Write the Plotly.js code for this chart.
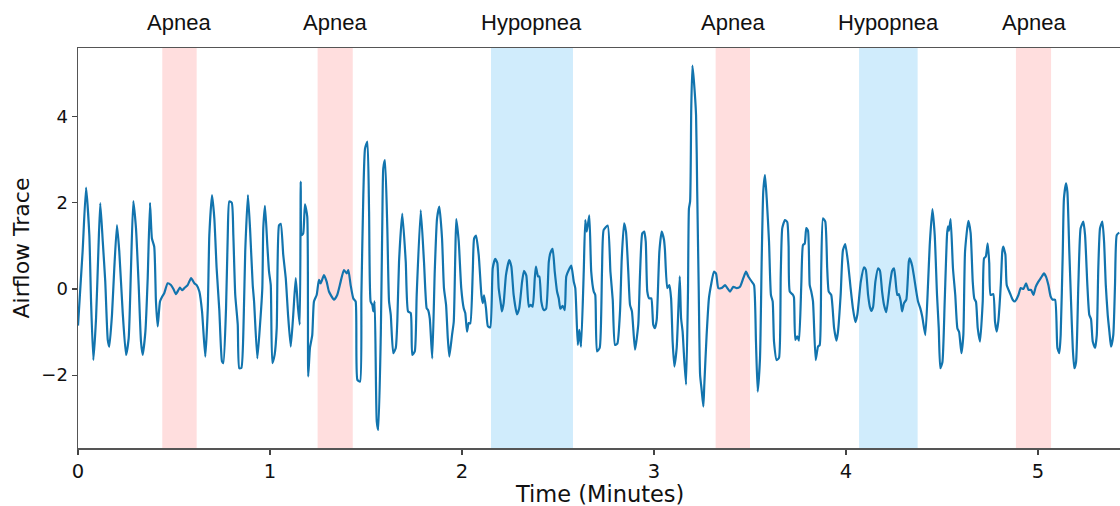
<!DOCTYPE html>
<html>
<head>
<meta charset="utf-8">
<script src="https://cdn.plot.ly/plotly-3.0.1.min.js"></script>
<style>html,body{margin:0;padding:0;background:#fff;}#chart{width:1120px;height:506px;}</style>
</head>
<body>
<div id="chart"></div>
<script>
// Time in minutes
const timeMin = [
 0.000,0.024,0.042,0.059,0.068,0.080,0.094,0.106,0.116,0.129,
 0.142,0.155,0.163,0.177,0.189,0.203,0.215,0.233,0.250,0.264,
 0.276,0.288,0.302,0.316,0.328,0.337,0.351,0.363,0.375,0.385,
 0.397,0.406,0.415,0.427,0.438,0.449,0.467,0.484,0.497,0.510,
 0.531,0.542,0.554,0.571,0.589,0.606,0.618,0.632,0.646,0.663,
 0.676,0.684,0.698,0.710,0.722,0.736,0.750,0.757,0.771,0.780,
 0.788,0.801,0.809,0.819,0.832,0.840,0.851,0.863,0.871,0.885,
 0.896,0.910,0.917,0.934,0.948,0.960,0.965,0.974,0.986,0.995,
 1.004,1.012,1.024,1.035,1.047,1.056,1.069,1.082,1.094,1.108,
 1.121,1.134,1.146,1.155,1.160,1.165,1.173,1.182,1.194,1.199,
 1.208,1.220,1.229,1.243,1.255,1.264,1.281,1.295,1.307,1.333,
 1.350,1.368,1.385,1.399,1.408,1.420,1.434,1.446,1.455,1.469,
 1.476,1.486,1.495,1.507,1.516,1.524,1.533,1.538,1.545,1.556,
 1.564,1.577,1.585,1.590,1.599,1.611,1.620,1.629,1.642,1.655,
 1.663,1.672,1.689,1.707,1.719,1.733,1.741,1.754,1.764,1.785,
 1.802,1.816,1.823,1.832,1.845,1.858,1.870,1.882,1.896,1.906,
 1.917,1.926,1.934,1.948,1.957,1.965,1.970,1.983,1.996,2.009,
 2.017,2.026,2.035,2.043,2.056,2.063,2.073,2.087,2.101,2.108,
 2.115,2.125,2.135,2.147,2.160,2.173,2.184,2.191,2.203,2.208,
 2.217,2.229,2.246,2.257,2.269,2.286,2.298,2.313,2.323,2.335,
 2.348,2.358,2.368,2.379,2.385,2.396,2.403,2.413,2.426,2.438,
 2.452,2.460,2.472,2.483,2.495,2.504,2.512,2.524,2.535,2.543,
 2.556,2.569,2.582,2.590,2.603,2.611,2.620,2.634,2.642,2.650,
 2.663,2.673,2.686,2.694,2.703,2.717,2.729,2.738,2.759,2.773,
 2.785,2.797,2.809,2.823,2.832,2.844,2.854,2.866,2.875,2.885,
 2.901,2.918,2.927,2.939,2.949,2.957,2.965,2.975,2.986,2.996,
 3.005,3.014,3.028,3.040,3.052,3.057,3.069,3.080,3.089,3.097,
 3.106,3.118,3.127,3.134,3.141,3.149,3.156,3.167,3.177,3.182,
 3.188,3.194,3.200,3.208,3.219,3.225,3.233,3.240,3.248,3.257,
 3.262,3.274,3.286,3.297,3.312,3.323,3.335,3.352,3.370,3.382,
 3.396,3.413,3.431,3.448,3.465,3.479,3.491,3.509,3.521,3.531,
 3.540,3.552,3.561,3.569,3.578,3.587,3.599,3.609,3.618,3.625,
 3.639,3.651,3.660,3.668,3.682,3.694,3.701,3.707,3.724,3.729,
 3.736,3.746,3.755,3.767,3.776,3.785,3.793,3.802,3.811,3.819,
 3.828,3.842,3.854,3.863,3.871,3.880,3.892,3.902,3.910,3.923,
 3.938,3.950,3.958,3.972,3.984,3.996,4.010,4.024,4.036,4.049,
 4.059,4.077,4.094,4.103,4.115,4.124,4.132,4.141,4.153,4.167,
 4.177,4.188,4.198,4.210,4.228,4.240,4.250,4.257,4.267,4.275,
 4.285,4.292,4.302,4.314,4.327,4.332,4.344,4.353,4.366,4.375,
 4.387,4.397,4.413,4.427,4.436,4.450,4.462,4.474,4.483,4.491,
 4.502,4.514,4.526,4.531,4.536,4.545,4.557,4.569,4.580,4.589,
 4.601,4.611,4.620,4.637,4.649,4.660,4.668,4.677,4.686,4.698,
 4.712,4.719,4.728,4.738,4.746,4.753,4.767,4.776,4.785,4.793,
 4.806,4.814,4.819,4.830,4.837,4.854,4.868,4.880,4.898,4.910,
 4.924,4.938,4.950,4.964,4.976,4.988,5.002,5.014,5.031,5.042,
 5.054,5.066,5.076,5.089,5.101,5.111,5.118,5.129,5.135,5.146,
 5.153,5.163,5.172,5.181,5.189,5.198,5.210,5.222,5.236,5.245,
 5.257,5.267,5.276,5.285,5.297,5.306,5.314,5.323,5.335,5.344,
 5.353,5.363,5.372,5.380,5.392,5.401,5.410,5.423
];
// Airflow trace values
const airflow = [
 -0.85,0.87,2.35,1.25,-0.29,-1.65,-0.68,0.87,1.99,1.10,
 0.17,-1.18,-1.34,-0.60,0.48,1.48,0.87,-0.56,-1.53,-1.14,
 0.48,2.04,1.41,0.09,-1.22,-1.53,-0.99,0.25,2.00,1.17,
 0.98,-0.29,-0.87,-0.29,-0.18,-0.10,0.13,0.09,0.00,-0.12,
 0.03,-0.03,0.02,0.09,0.25,0.13,0.09,-0.06,-0.52,-1.57,
 -0.45,1.25,2.18,1.64,0.48,-0.49,-1.68,-1.72,-0.45,1.25,
 2.03,2.00,1.25,-0.14,-0.83,-1.84,-1.83,-0.68,0.87,2.18,
 1.41,0.09,-0.29,-1.61,-0.83,0.02,1.41,1.93,1.02,0.40,
 0.09,-1.72,-1.53,-0.91,1.48,1.51,0.79,0.25,-0.60,-1.34,
 -0.60,0.25,-0.45,-0.83,2.49,1.25,1.29,1.96,1.68,-2.03,
 -1.37,-1.07,-0.29,-0.14,0.21,0.13,0.32,0.17,-0.06,-0.25,
 -0.14,0.17,0.44,0.36,0.44,0.09,-0.22,-0.29,-2.11,-2.15,
 -0.14,2.18,3.26,3.42,1.79,-0.29,-0.37,-0.52,-0.29,-3.07,
 -3.27,-1.07,1.56,2.80,2.99,1.41,-0.29,-0.60,-1.49,-1.37,
 -0.76,0.63,1.75,0.63,-0.52,-0.56,-1.53,-1.45,-0.14,1.83,
 0.63,-0.45,-0.49,-0.68,-1.61,0.40,1.64,1.91,1.17,0.02,
 -0.37,-1.14,-1.57,-1.07,-0.76,0.79,1.62,1.10,0.02,-0.45,
 -0.56,-0.99,-0.79,-0.80,0.40,1.17,1.24,0.79,-0.14,-0.33,
 -0.15,-0.45,-0.87,-0.89,0.48,0.70,0.60,0.02,-0.37,-0.52,
 -0.33,0.32,0.67,0.52,-0.14,-0.59,-0.45,0.17,0.42,0.31,
 -0.41,-0.37,-0.41,0.25,0.52,0.29,0.29,-0.29,-0.49,-0.46,
 0.63,0.83,0.93,0.40,-0.06,-0.22,-0.46,-0.39,-0.49,0.29,
 0.44,0.54,0.17,0.02,-1.30,-0.95,-1.34,0.40,1.60,1.33,
 1.71,0.40,-0.06,-0.14,-1.45,-1.37,0.40,1.37,1.47,0.40,
 -0.25,-1.30,-1.27,-0.52,0.71,1.52,1.33,0.40,-0.37,-0.52,
 -1.41,-0.83,0.32,1.29,1.33,1.10,-0.06,-0.22,-0.22,-0.83,
 -0.91,-0.72,0.87,1.33,1.14,0.90,0.02,0.09,-0.22,-1.22,
 -1.80,-1.37,-0.45,0.29,-0.68,-0.99,-1.53,-2.22,-0.06,1.87,
 2.03,4.19,5.18,4.81,4.03,2.26,-0.06,-1.99,-2.34,-2.73,
 -2.22,-1.07,-0.22,0.09,0.40,0.36,0.02,0.02,0.09,0.02,
 -0.06,0.05,0.02,0.05,0.25,0.40,0.29,0.17,0.09,-1.22,
 -2.38,-1.61,0.71,2.26,2.64,2.10,1.10,-0.14,-0.29,-1.22,
 -1.65,-1.60,0.32,1.41,1.60,1.55,1.00,-0.06,-0.14,-0.20,
 -1.18,-1.10,-1.20,0.09,1.02,1.05,1.41,1.35,0.09,-0.06,
 -0.29,-1.65,-1.34,-1.30,0.48,1.64,1.56,0.48,-0.06,-0.14,
 -0.91,-1.20,-1.00,-0.14,0.90,1.04,0.63,0.02,-0.45,-0.77,
 -0.60,0.17,0.50,0.45,-0.14,-0.41,-0.51,-0.42,0.17,0.48,
 0.42,-0.06,-0.37,-0.54,0.09,0.42,0.48,0.25,-0.14,-0.12,
 -0.29,-0.52,-0.33,-0.25,0.63,0.71,0.55,0.32,-0.06,-0.29,
 -0.45,-0.64,-1.07,0.09,1.02,1.85,1.25,-0.14,-0.91,-1.84,
 -1.70,-0.29,1.25,1.45,1.35,1.62,0.48,-0.14,-0.91,-1.00,
 -1.49,-1.07,0.87,1.58,1.30,0.17,-0.22,-0.30,-0.91,-1.22,
 -0.29,0.71,0.75,1.06,0.60,-0.14,-0.12,-0.76,-0.99,-0.76,
 0.09,0.87,0.98,0.80,0.09,-0.10,-0.25,-0.29,-0.14,0.02,
 0.00,0.13,-0.02,-0.02,-0.14,0.05,0.17,0.25,0.36,0.28,
 0.09,-0.18,-0.25,-0.25,-1.37,-1.49,-1.07,0.87,2.10,2.45,
 2.25,0.87,-0.29,-1.37,-1.84,-1.70,0.09,1.41,1.56,1.25,
 0.09,-0.60,-0.70,-1.22,-1.37,-1.07,0.48,1.41,1.56,1.10,
 0.09,-0.60,-1.00,-1.34,-1.07,0.09,1.25,1.31
];
// Scored events
const eventLabels = ['Apnea','Apnea','Hypopnea','Apnea','Hypopnea','Apnea'];
const eventStart  = [0.439, 1.248, 2.151, 3.321, 4.068, 4.885];
const eventEnd    = [0.618, 1.431, 2.578, 3.500, 4.373, 5.068];
const eventColors = {Apnea:'rgba(255,222,222,1)', Hypopnea:'rgba(208,236,252,1)'};
const xTickVals = [0,1,2,3,4,5];
const yTickVals = [-2,0,2,4];
const yTickText = ['\u22122','0','2','4'];
const xTitle = 'Time (Minutes)';
const yTitle = 'Airflow Trace';

const axFont = 'DejaVu Sans, sans-serif';
const shapes = eventLabels.map((lab,i)=>({
  type:'rect', xref:'x', yref:'paper', x0:eventStart[i], x1:eventEnd[i], y0:0, y1:1,
  fillcolor:eventColors[lab], line:{width:0}, layer:'below'
}));
const annotations = eventLabels.map((lab,i)=>({
  x:(eventStart[i]+eventEnd[i])/2, xref:'x', y:1.065, yref:'paper',
  text:lab, showarrow:false, xanchor:'center', yanchor:'middle',
  font:{family:'Liberation Sans, Arial, sans-serif', size:22, color:'#111'}
}));
// x-axis title placed as paper annotation to match reference spacing
annotations.push({
  x:0.5, xref:'paper', y:-0.115, yref:'paper', text:xTitle, showarrow:false,
  xanchor:'center', yanchor:'middle', font:{family:axFont, size:22.5, color:'#111'}
});

const trace = {
  x: timeMin, y: airflow, type:'scatter', mode:'lines',
  line:{color:'#1274ae', width:2.2, shape:'spline', smoothing:0.5},
  hoverinfo:'skip'
};

const layout = {
  width:1120, height:506,
  margin:{l:78, r:0, t:48, b:58},
  paper_bgcolor:'#fff', plot_bgcolor:'#fff',
  showlegend:false,
  shapes: shapes,
  annotations: annotations,
  xaxis:{
    range:[0,5.427], tickvals:xTickVals, ticks:'outside', ticklen:5, tickwidth:1.3, tickcolor:'#444',
    showline:true, linecolor:'#555', linewidth:1.5, mirror:true,
    showgrid:false, zeroline:false,
    tickfont:{family:axFont, size:19.5, color:'#111'}
  },
  yaxis:{
    range:[-3.69,5.59], tickvals:yTickVals, ticktext:yTickText, ticks:'outside', ticklen:5, tickwidth:1.3, tickcolor:'#444',
    showline:true, linecolor:'#555', linewidth:1.5,
    showgrid:false, zeroline:false,
    tickfont:{family:axFont, size:18, color:'#111'},
    title:{text:yTitle, font:{family:axFont, size:22, color:'#111'}, standoff:5}
  }
};
Plotly.newPlot('chart', [trace], layout, {staticPlot:true, displayModeBar:false});
</script>
</body>
</html>
